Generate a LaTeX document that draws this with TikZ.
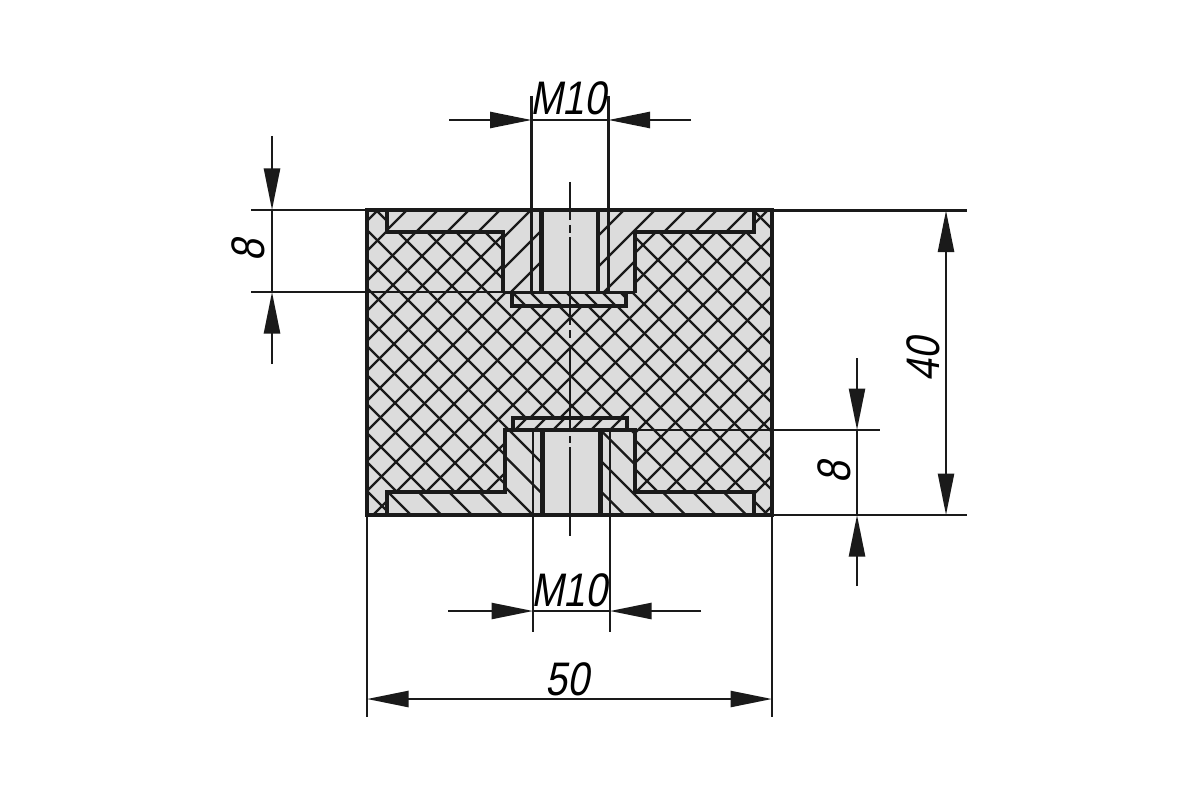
\documentclass[tikz,border=0pt]{standalone}
\usepackage{fontspec}
\setmainfont{Liberation Sans}
\usetikzlibrary{arrows.meta}
\definecolor{fillgray}{HTML}{DCDCDC}
\definecolor{ink}{HTML}{1A1A1A}
\tikzset{
 x=0.0254cm,y=-0.0254cm,
 hatchline/.style={ink,line width=1.75pt},
 thick outline/.style={ink,line width=3.2pt,line join=miter},
 dimline/.style={ink,line width=1.7pt},
 dimarrow/.style={ink,line width=1.7pt,-{Triangle[length=30pt,width=11.6pt]}},
 dimarrowb/.style={ink,line width=1.7pt,{Triangle[length=30pt,width=11.6pt]}-{Triangle[length=30pt,width=11.6pt]}},
 dimtext/.style={inner sep=0pt,font=\fontsize{34}{34}\selectfont,xscale=0.83,xslant=0.22},
}
\begin{document}
\begin{tikzpicture}
\useasboundingbox (0,0) rectangle (1200,800);
\fill[white] (0,0) rectangle (1200,800);
\coordinate (TL) at (367,210); \coordinate (BR) at (772,515);
\fill[fillgray] (TL) rectangle (BR);
\begin{scope}
\clip (TL) rectangle (BR);
\foreach \k in {-20,...,30}{
 \draw[hatchline] ({108+\k*29+200},200) -- ({108+\k*29+540},540);
}
\foreach \k in {-20,...,30}{
 \draw[hatchline] ({738+\k*30-200},200) -- ({738+\k*30-540},540);
}
\end{scope}
\newcommand{\topshape}{(387,210) -- (387,232) -- (503,232) -- (503,292) -- (635,292) -- (635,232) -- (754,232) -- (754,210) -- cycle}
\newcommand{\botshape}{(387,515) -- (387,492) -- (505,492) -- (505,430) -- (635,430) -- (635,492) -- (754,492) -- (754,515) -- cycle}
\fill[fillgray] \topshape;
\fill[fillgray] \botshape;
\fill[fillgray] (512,292) rectangle (626,306);
\fill[fillgray] (513,418) rectangle (627,430);
\begin{scope}
\clip \topshape;
\foreach \k in {0,...,14}{\draw[hatchline] ({617+\k*31-205},205) -- ({617+\k*31-300},300);}
\end{scope}
\begin{scope}
\clip (512,292) rectangle (626,306);
\foreach \k in {-2,...,7}{\draw[hatchline] ({220+\k*18+285},285) -- ({220+\k*18+310},310);}
\end{scope}
\begin{scope}
\clip \botshape;
\foreach \k in {-1,...,14}{\draw[hatchline] ({-104+\k*30.5+425},425) -- ({-104+\k*30.5+520},520);}
\end{scope}
\begin{scope}
\clip (513,418) rectangle (627,430);
\foreach \k in {-2,...,7}{\draw[hatchline] ({945+\k*19-435},435) -- ({945+\k*19-413},413);}
\end{scope}
\draw[thick outline] (387,211) -- (387,232) -- (503,232) -- (503,293);
\draw[thick outline] (635,293) -- (635,232) -- (754,232) -- (754,211);
\draw[hatchline,line width=2.4pt] (503,292.5) -- (635,292.5);
\draw[thick outline,line width=2.9pt] (512,293) -- (512,306) -- (626,306) -- (626,293);
\draw[thick outline] (387,514) -- (387,492) -- (505,492) -- (505,430) -- (635,430) -- (635,492) -- (754,492) -- (754,514);
\draw[thick outline] (513,430) -- (513,418) -- (627,418) -- (627,430);
\fill[fillgray] (541.5,212) rectangle (598,291);
\fill[fillgray] (542.5,432) rectangle (600.5,513);
\draw[thick outline] (541.5,210) -- (541.5,292);
\draw[thick outline] (598,210) -- (598,292);
\draw[thick outline] (542.5,431) -- (542.5,515);
\draw[thick outline] (600.5,431) -- (600.5,515);
\draw[thick outline] (TL) rectangle (BR);
% centre line
\foreach \a/\b [count=\i] in {182/220,225/233,237/325,330/338,345/432,436/443,447/536}{
 \coordinate (ca\i) at (570,\a); \coordinate (cb\i) at (570,\b);
 \draw[dimline] (ca\i) -- (cb\i);
}
% M10 top
\coordinate (a1) at (531.5,96); \coordinate (a2) at (531.5,292);
\coordinate (b1) at (608.5,96); \coordinate (b2) at (608.5,292);
\draw[dimline] (a1) -- (a2); \draw[dimline] (b1) -- (b2);
\coordinate (c1) at (449,120); \coordinate (c2) at (531.5,120);
\coordinate (d1) at (691,120); \coordinate (d2) at (608.5,120);
\draw[dimarrow] (c1) -- (c2); \draw[dimarrow] (d1) -- (d2);
\draw[dimline] (c2) -- (d2);
\node[dimtext] (m1) at (571,98) {M10};
% M10 bottom
\coordinate (e1) at (533,432); \coordinate (e2) at (533,632);
\coordinate (f1) at (610,432); \coordinate (f2) at (610,632);
\draw[dimline] (e1) -- (e2); \draw[dimline] (f1) -- (f2);
\coordinate (g1) at (448,611); \coordinate (g2) at (533,611);
\coordinate (h1) at (701,611); \coordinate (h2) at (610,611);
\draw[dimarrow] (g1) -- (g2); \draw[dimarrow] (h1) -- (h2);
\draw[dimline] (g2) -- (h2);
\node[dimtext] (m2) at (572,590) {M10};
% 50
\coordinate (i1) at (367,515); \coordinate (i2) at (367,717);
\coordinate (j1) at (772,515); \coordinate (j2) at (772,717);
\draw[dimline] (i1) -- (i2); \draw[dimline] (j1) -- (j2);
\coordinate (k1) at (367,699); \coordinate (k2) at (772,699);
\draw[dimarrowb] (k1) -- (k2);
\node[dimtext] (n50) at (570,679) {50};
% 8 left
\coordinate (l1) at (251,210); \coordinate (l2) at (367,210);
\coordinate (l3) at (251,292); \coordinate (l4) at (503,292);
\draw[dimline] (l1) -- (l2); \draw[dimline] (l3) -- (l4);
\coordinate (m3) at (272,136); \coordinate (m4) at (272,210);
\coordinate (m5) at (272,364); \coordinate (m6) at (272,292);
\draw[dimarrow] (m3) -- (m4); \draw[dimarrow] (m5) -- (m6); \draw[dimline] (m4) -- (m6);
\node[rotate=90,dimtext] (n8a) at (248,248) {8};
% 40
\coordinate (o1) at (772,210.5); \coordinate (o2) at (967,210.5);
\coordinate (p1) at (772,515); \coordinate (p2) at (967,515);
\draw[dimline] (o1) -- (o2); \draw[dimline] (p1) -- (p2);
\coordinate (q1) at (946,210.5); \coordinate (q2) at (946,515);
\draw[dimarrowb] (q1) -- (q2);
\node[rotate=90,dimtext] (n40) at (923,357) {40};
% 8 right
\coordinate (r1) at (635,430); \coordinate (r2) at (880,430);
\draw[dimline] (r1) -- (r2);
\coordinate (s1) at (857,358); \coordinate (s2) at (857,430);
\coordinate (t1) at (857,586); \coordinate (t2) at (857,515);
\draw[dimarrow] (s1) -- (s2); \draw[dimarrow] (t1) -- (t2); \draw[dimline] (s2) -- (t2);
\node[rotate=90,dimtext] (n8b) at (834,470) {8};
\end{tikzpicture}
\end{document}
